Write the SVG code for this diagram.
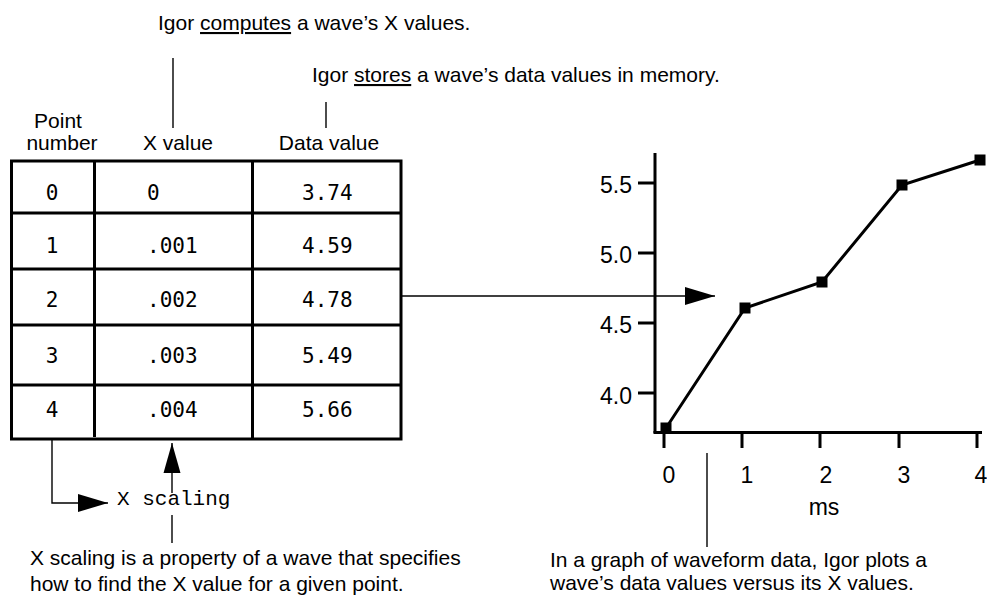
<svg xmlns="http://www.w3.org/2000/svg" width="987" height="595" viewBox="0 0 987 595">
<defs>
<style>
.t{font-family:"Liberation Sans",Arial,Helvetica,sans-serif;font-size:21px;fill:#000}
.g{font-family:"Liberation Sans",Arial,Helvetica,sans-serif;font-size:23px;fill:#000}
.m{font-family:"DejaVu Sans Mono","Liberation Mono",monospace;font-size:21px;fill:#000}
.c{font-family:"Liberation Mono","Courier New",monospace;font-size:21px;fill:#000}
.grid{stroke:#000;stroke-width:3;fill:none}
.thin{stroke:#000;stroke-width:1.4;fill:none}
.axis{stroke:#000;stroke-width:3;fill:none}
.u{text-decoration:underline}
</style>
<marker id="ah" markerUnits="userSpaceOnUse" markerWidth="30" markerHeight="18" refX="30" refY="9" orient="auto">
<path d="M0,0 L30,9 L0,18 Z" fill="#000"/>
</marker>
<marker id="ahu" markerUnits="userSpaceOnUse" markerWidth="30" markerHeight="18" refX="30" refY="9" orient="auto">
<path d="M0,0.5 L30,9 L0,17.5 Z" fill="#000"/>
</marker>
</defs>
<rect width="987" height="595" fill="#fff"/>

<g id="note-computes">
<text class="t" x="158" y="30">Igor <tspan class="u">computes</tspan> a wave’s X values.</text>
</g>
<g id="note-stores">
<text class="t" x="312" y="82">Igor <tspan class="u">stores</tspan> a wave’s data values in memory.</text>
</g>

<g id="table">
<text class="t" x="58" y="128" text-anchor="middle">Point</text>
<text class="t" x="62" y="150" text-anchor="middle">number</text>
<text class="t" x="178" y="150" text-anchor="middle">X value</text>
<text class="t" x="329" y="150" text-anchor="middle">Data value</text>
<rect class="grid" x="11.5" y="161" width="389.5" height="278"/>
<line class="grid" x1="11.5" y1="213" x2="401" y2="213"/>
<line class="grid" x1="11.5" y1="269" x2="401" y2="269"/>
<line class="grid" x1="11.5" y1="325" x2="401" y2="325"/>
<line class="grid" x1="11.5" y1="385" x2="401" y2="385"/>
<line class="grid" x1="94.5" y1="161" x2="94.5" y2="437"/>
<line class="grid" x1="252.5" y1="161" x2="252.5" y2="439"/>
<text class="m" x="52" y="200" text-anchor="middle">0</text>
<text class="m" x="52" y="253" text-anchor="middle">1</text>
<text class="m" x="52" y="307" text-anchor="middle">2</text>
<text class="m" x="52" y="363" text-anchor="middle">3</text>
<text class="m" x="52" y="417" text-anchor="middle">4</text>
<text class="m" x="147" y="200">0</text>
<text class="m" x="147" y="253">.001</text>
<text class="m" x="147" y="307">.002</text>
<text class="m" x="147" y="363">.003</text>
<text class="m" x="147" y="417">.004</text>
<text class="m" x="302" y="200">3.74</text>
<text class="m" x="302" y="253">4.59</text>
<text class="m" x="302" y="307">4.78</text>
<text class="m" x="302" y="363">5.49</text>
<text class="m" x="302" y="417">5.66</text>
</g>

<g id="x-scaling">
<text class="c" x="117" y="505">X scaling</text>
</g>

<g id="note-xscaling">
<text class="t" x="30" y="565">X scaling is a property of a wave that specifies</text>
<text class="t" x="30" y="591">how to find the X value for a given point.</text>
</g>

<g id="graph">
<line class="axis" x1="655" y1="153" x2="655" y2="433"/>
<line class="axis" x1="653.5" y1="432.5" x2="982" y2="432.5"/>
<line class="axis" x1="638" y1="183" x2="655" y2="183"/>
<line class="axis" x1="638" y1="253" x2="655" y2="253"/>
<line class="axis" x1="638" y1="323" x2="655" y2="323"/>
<line class="axis" x1="638" y1="393" x2="655" y2="393"/>
<text class="g" x="632" y="193" text-anchor="end">5.5</text>
<text class="g" x="632" y="263" text-anchor="end">5.0</text>
<text class="g" x="632" y="333" text-anchor="end">4.5</text>
<text class="g" x="632" y="404" text-anchor="end">4.0</text>
<line class="axis" x1="664" y1="433" x2="664" y2="448"/>
<line class="axis" x1="742" y1="433" x2="742" y2="448"/>
<line class="axis" x1="820" y1="433" x2="820" y2="448"/>
<line class="axis" x1="899" y1="433" x2="899" y2="448"/>
<line class="axis" x1="977" y1="433" x2="977" y2="448"/>
<text class="g" x="669" y="483" text-anchor="middle">0</text>
<text class="g" x="747" y="483" text-anchor="middle">1</text>
<text class="g" x="826" y="483" text-anchor="middle">2</text>
<text class="g" x="904" y="483" text-anchor="middle">3</text>
<text class="g" x="981" y="483" text-anchor="middle">4</text>
<text class="g" x="824" y="515" text-anchor="middle">ms</text>
<polyline points="666,428 745,308 822,282 902,185 980,160" fill="none" stroke="#000" stroke-width="3"/>
<rect x="660.5" y="422.5" width="11" height="11" fill="#000"/>
<rect x="739.5" y="302.5" width="11" height="11" fill="#000"/>
<rect x="816.5" y="276.5" width="11" height="11" fill="#000"/>
<rect x="896.5" y="179.5" width="11" height="11" fill="#000"/>
<rect x="974.5" y="154.5" width="11" height="11" fill="#000"/>
</g>

<g id="note-graph">
<text class="t" x="550" y="567">In a graph of waveform data, Igor plots a</text>
<text class="t" x="550" y="590">wave’s data values versus its X values.</text>
</g>

<g id="connectors">
<line class="thin" x1="173" y1="58" x2="173" y2="128"/>
<line class="thin" x1="326" y1="102" x2="326" y2="128"/>
<line class="thin" x1="401" y1="296" x2="715" y2="296" marker-end="url(#ah)"/>
<polyline class="thin" points="52,439 52,503 108,503" marker-end="url(#ah)"/>
<line class="thin" x1="172" y1="493" x2="172" y2="443" marker-end="url(#ahu)"/>
<line class="thin" x1="172" y1="515" x2="172" y2="543"/>
<line class="thin" x1="707" y1="453" x2="707" y2="547"/>
</g>
</svg>
